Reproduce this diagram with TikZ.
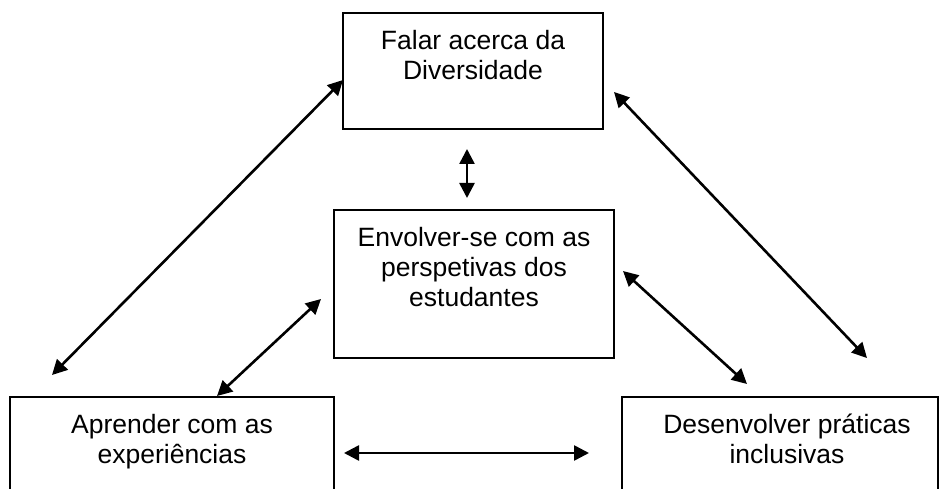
\documentclass[tikz,border=0pt]{standalone}
\usepackage{fontspec}
\setmainfont{Liberation Sans}
\usetikzlibrary{arrows.meta}
\begin{document}
\begin{tikzpicture}[x=1pt,y=-1pt,
  box/.style={draw=black,line width=2pt,inner sep=0pt},
  lbl/.style={inner sep=0pt,align=center,anchor=base,font=\fontsize{26.5}{30}\selectfont},
  dbl/.style={line width=2.6pt,{Triangle[length=15pt,width=15pt]}-{Triangle[length=15pt,width=15pt]}}]
\useasboundingbox (0,0) rectangle (940,489);
\clip (0,0) rectangle (940,489);
\fill[white] (0,0) rectangle (940,489);
% boxes
\draw[box] (343,13) rectangle (603,129) node[midway] (top) {};
\draw[box] (334,210) rectangle (614,358) node[midway] (mid) {};
\draw[box] (10,397) rectangle (334,540) node[midway] (bl) {};
\draw[box] (622,397) rectangle (938,540) node[midway] (br) {};
% texts (base anchor = baseline of last line)
\node[lbl] (ttop) at (473,80) {Falar acerca da\\Diversidade};
\node[lbl] (tmid) at (474,306) {Envolver-se com as\\perspetivas dos\\estudantes};
\node[lbl] (tbl) at (172,463) {Aprender com as\\experiências};
\node[lbl] (tbr) at (787,463) {Desenvolver práticas\\inclusivas};
% arrow ends
\coordinate (a1s) at (52,375);  \coordinate (a1e) at (343,80);
\coordinate (a2s) at (217,396); \coordinate (a2e) at (321,299);
\coordinate (a3s) at (467,149); \coordinate (a3e) at (467,198);
\coordinate (a4s) at (614,92);  \coordinate (a4e) at (867,358);
\coordinate (a5s) at (623,271); \coordinate (a5e) at (747,384);
\coordinate (a6s) at (344,453); \coordinate (a6e) at (589,453);
\draw[dbl] (a1s) -- (a1e);
\draw[dbl] (a2s) -- (a2e);
\draw[dbl] (a3s) -- (a3e);
\draw[dbl] (a4s) -- (a4e);
\draw[dbl] (a5s) -- (a5e);
\draw[dbl] (a6s) -- (a6e);
\end{tikzpicture}
\end{document}
